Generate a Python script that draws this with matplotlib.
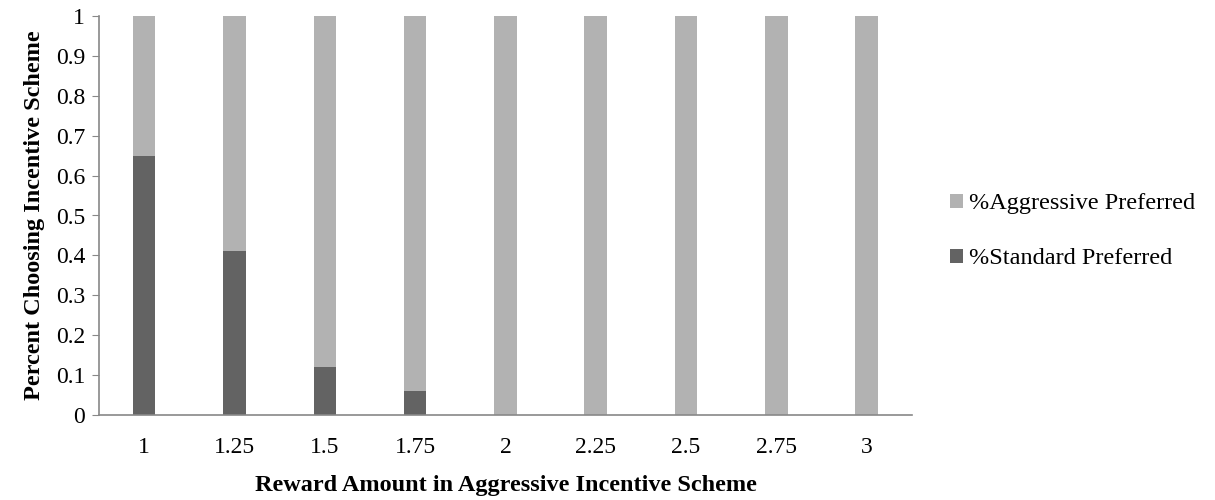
import matplotlib.pyplot as plt
import numpy as np

plt.rcParams['font.family'] = ['Liberation Serif', 'DejaVu Serif']

# data
rewards = ['1', '1.25', '1.5', '1.75', '2', '2.25', '2.5', '2.75', '3']
standard = [0.65, 0.41, 0.12, 0.06, 0, 0, 0, 0, 0]
aggressive = [0.35, 0.59, 0.88, 0.94, 1, 1, 1, 1, 1]

fig = plt.figure(figsize=(12.15, 5), dpi=100)
ax = fig.add_axes([0.0815, 0.17, 0.669, 0.798])

x = np.arange(len(rewards))
width = 0.25
b1 = ax.bar(x, standard, width, color='#636363', label='%Standard Preferred')
b2 = ax.bar(x, aggressive, width, bottom=standard, color='#b2b2b2', label='%Aggressive Preferred')

ax.set_xlim(-0.5, len(rewards) - 0.5)
ax.set_ylim(0, 1)
ax.set_yticks(np.arange(0, 1.01, 0.1))
ax.set_yticklabels(['0', '0.1', '0.2', '0.3', '0.4', '0.5', '0.6', '0.7', '0.8', '0.9', '1'])
ax.set_xticks(x)
ax.set_xticklabels(rewards)
ax.tick_params(axis='x', length=0, labelsize=17, pad=16)
ax.tick_params(axis='y', length=5, color='#888888', labelsize=17, pad=5)

for s in ['top', 'right']:
    ax.spines[s].set_visible(False)
for s in ['left', 'bottom']:
    ax.spines[s].set_color('#888888')
    ax.spines[s].set_linewidth(1.2)

ax.set_xlabel('Reward Amount in Aggressive Incentive Scheme', fontsize=17.5, fontweight='bold', labelpad=12)
ax.set_ylabel('Percent Choosing Incentive Scheme', fontsize=17.5, fontweight='bold', labelpad=8)

ax.legend(handles=[b2, b1], loc='center left', bbox_to_anchor=(1.02, 0.46), frameon=False,
          fontsize=17.5, handlelength=0.55, handleheight=0.55, handletextpad=0.25, labelspacing=1.4)

plt.savefig('out.png', dpi=100)
